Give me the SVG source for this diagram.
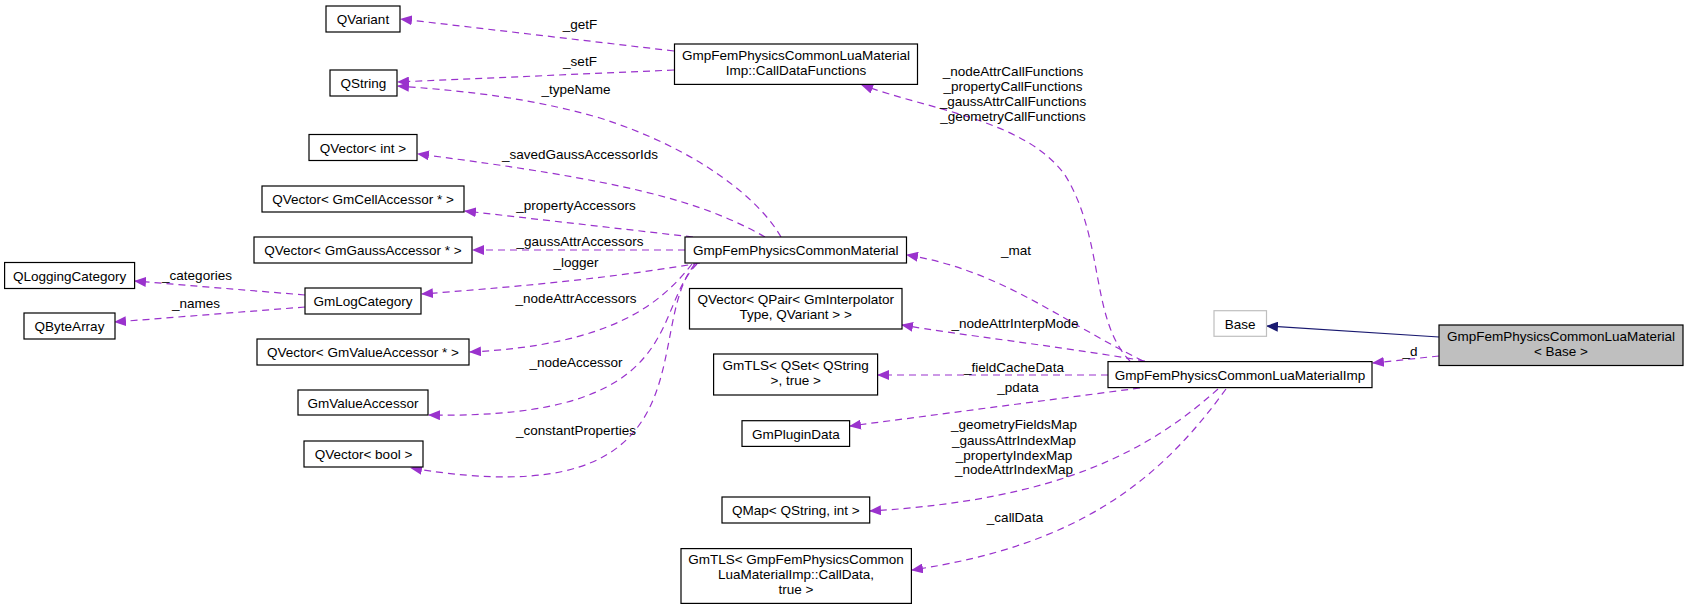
<svg xmlns="http://www.w3.org/2000/svg" width="1685" height="605" viewBox="0 0 1685 605">
<style>
text{font-family:"Liberation Sans",Arial,sans-serif;font-size:13.5px;fill:#000}
.n{text-anchor:middle}
.l{text-anchor:middle}
rect{fill:#fff;stroke:#000;stroke-width:1.2}
.e{fill:none;stroke:#9a32cd;stroke-width:1.2;stroke-dasharray:7,5}
</style>
<defs>
<marker id="ap" markerWidth="12" markerHeight="10" refX="11" refY="5" orient="auto" markerUnits="userSpaceOnUse"><path d="M0,0L12,5L0,10z" fill="#9a32cd"/></marker>
<marker id="ab" markerWidth="12" markerHeight="10" refX="11" refY="5" orient="auto" markerUnits="userSpaceOnUse"><path d="M0,0L12,5L0,10z" fill="#191970"/></marker>
</defs>
<rect x="0" y="0" width="1685" height="605" style="fill:#fff;stroke:none"/>
<g id="edges">
<path class="e" marker-end="url(#ap)" d="M674,51 L401,19"/>
<path class="e" marker-end="url(#ap)" d="M674,70 L398,82"/>
<path class="e" marker-end="url(#ap)" d="M781,237 C760,200 700,150 600,118 C520,95 450,90 398,86"/>
<path class="e" marker-end="url(#ap)" d="M765,237 C700,200 620,180 418,154"/>
<path class="e" marker-end="url(#ap)" d="M693,237 L465,211"/>
<path class="e" marker-end="url(#ap)" d="M685,250 L473,250"/>
<path class="e" marker-end="url(#ap)" d="M700,263 C600,280 500,288 422,294"/>
<path class="e" marker-end="url(#ap)" d="M305,295 L135,281"/>
<path class="e" marker-end="url(#ap)" d="M305,307 L115,322"/>
<path class="e" marker-end="url(#ap)" d="M692,264 C660,305 610,345 470,352"/>
<path class="e" marker-end="url(#ap)" d="M697,264 C650,310 690,420 429,415"/>
<path class="e" marker-end="url(#ap)" d="M695,264 C640,330 720,520 411,468"/>
<path class="e" marker-end="url(#ap)" d="M1130,361 C1090,320 1105,240 1065,175 C1025,120 930,110 862,85"/>
<path class="e" marker-end="url(#ap)" d="M1143,361 C1060,320 1000,270 907,255"/>
<path class="e" marker-end="url(#ap)" d="M1145,361 C1050,345 960,335 902,325"/>
<path class="e" marker-end="url(#ap)" d="M1108,375 L878,375"/>
<path class="e" marker-end="url(#ap)" d="M1140,388 L850,426"/>
<path class="e" marker-end="url(#ap)" d="M1218,389 C1150,450 1060,500 870,511"/>
<path class="e" marker-end="url(#ap)" d="M1226,389 C1160,480 1080,545 912,570"/>
<path fill="none" stroke="#191970" stroke-width="1.2" marker-end="url(#ab)" d="M1439,337 L1267,326"/>
<path class="e" marker-end="url(#ap)" d="M1439,356 L1373,363"/>
</g>
<g id="labels">
<text class="l" x="580" y="29">_getF</text>
<text class="l" x="580" y="66">_setF</text>
<text class="l" x="576" y="94">_typeName</text>
<text class="l" x="580" y="159">_savedGaussAccessorIds</text>
<text class="l" x="576" y="210">_propertyAccessors</text>
<text class="l" x="580" y="246">_gaussAttrAccessors</text>
<text class="l" x="576" y="267">_logger</text>
<text class="l" x="197" y="280">_categories</text>
<text class="l" x="196" y="308">_names</text>
<text class="l" x="576" y="303">_nodeAttrAccessors</text>
<text class="l" x="576" y="367">_nodeAccessor</text>
<text class="l" x="576" y="435">_constantProperties</text>
<text class="l" x="1013" y="76">_nodeAttrCallFunctions</text>
<text class="l" x="1013" y="90.5">_propertyCallFunctions</text>
<text class="l" x="1013" y="105.5">_gaussAttrCallFunctions</text>
<text class="l" x="1013" y="120.5">_geometryCallFunctions</text>
<text class="l" x="1016" y="255">_mat</text>
<text class="l" x="1015" y="328">_nodeAttrInterpMode</text>
<text class="l" x="1014" y="371.5">_fieldCacheData</text>
<text class="l" x="1018" y="391.5">_pdata</text>
<text class="l" x="1014" y="429">_geometryFieldsMap</text>
<text class="l" x="1014" y="444.5">_gaussAttrIndexMap</text>
<text class="l" x="1014" y="459.5">_propertyIndexMap</text>
<text class="l" x="1014" y="474">_nodeAttrIndexMap</text>
<text class="l" x="1015" y="521.5">_callData</text>
<text class="l" x="1410" y="356">_d</text>
</g>
<g id="QVariant"><rect x="326" y="6" width="74" height="26"/><text class="n" x="363" y="24">QVariant</text></g>
<g id="QString"><rect x="330" y="70" width="67" height="26"/><text class="n" x="363.5" y="88">QString</text></g>
<g id="QVectorInt"><rect x="309" y="134.5" width="108" height="26"/><text class="n" x="363" y="152.5">QVector&lt; int &gt;</text></g>
<g id="QVectorCell"><rect x="262" y="186" width="202" height="26"/><text class="n" x="363" y="204">QVector&lt; GmCellAccessor * &gt;</text></g>
<g id="QVectorGauss"><rect x="254" y="237" width="218" height="26"/><text class="n" x="363" y="255">QVector&lt; GmGaussAccessor * &gt;</text></g>
<g id="QLoggingCategory"><rect x="4.6" y="262.5" width="130" height="26"/><text class="n" x="69.6" y="280.5">QLoggingCategory</text></g>
<g id="GmLogCategory"><rect x="305" y="288" width="116" height="26"/><text class="n" x="363" y="306">GmLogCategory</text></g>
<g id="QByteArray"><rect x="24" y="313" width="91" height="26"/><text class="n" x="69.5" y="331">QByteArray</text></g>
<g id="QVectorValue"><rect x="257" y="339" width="212" height="26"/><text class="n" x="363" y="357">QVector&lt; GmValueAccessor * &gt;</text></g>
<g id="GmValueAccessor"><rect x="298" y="390" width="130" height="25"/><text class="n" x="363" y="407.5">GmValueAccessor</text></g>
<g id="QVectorBool"><rect x="304" y="441" width="119" height="26"/><text class="n" x="363.5" y="459">QVector&lt; bool &gt;</text></g>
<g id="CallDataFunctions"><rect x="674.5" y="44" width="243" height="40.4"/><text class="n" x="796" y="60">GmpFemPhysicsCommonLuaMaterial</text><text class="n" x="796" y="75">Imp::CallDataFunctions</text></g>
<g id="CommonMaterial"><rect x="685" y="237" width="221.5" height="26"/><text class="n" x="795.7" y="255">GmpFemPhysicsCommonMaterial</text></g>
<g id="QVectorQPair"><rect x="689.5" y="288.5" width="212.5" height="40.5"/><text class="n" x="795.7" y="304">QVector&lt; QPair&lt; GmInterpolator</text><text class="n" x="795.7" y="319">Type, QVariant &gt; &gt;</text></g>
<g id="GmTLSQSet"><rect x="713.6" y="354" width="164" height="41"/><text class="n" x="795.7" y="370">GmTLS&lt; QSet&lt; QString</text><text class="n" x="795.7" y="385">&gt;, true &gt;</text></g>
<g id="GmPluginData"><rect x="742" y="420.7" width="107.6" height="25.7"/><text class="n" x="795.8" y="438.5">GmPluginData</text></g>
<g id="QMap"><rect x="722" y="497" width="147.7" height="26"/><text class="n" x="795.8" y="515">QMap&lt; QString, int &gt;</text></g>
<g id="GmTLSCallData"><rect x="681" y="548.6" width="230.4" height="54.8"/><text class="n" x="796" y="564">GmTLS&lt; GmpFemPhysicsCommon</text><text class="n" x="796" y="579">LuaMaterialImp::CallData,</text><text class="n" x="796" y="594">true &gt;</text></g>
<g id="Base"><rect x="1214" y="310.7" width="52.5" height="25.6" style="stroke:#bfbfbf"/><text class="n" x="1240.2" y="328.5">Base</text></g>
<g id="LuaMaterialImp"><rect x="1108" y="361.6" width="264" height="26"/><text class="n" x="1240" y="379.5">GmpFemPhysicsCommonLuaMaterialImp</text></g>
<g id="LuaMaterialBase"><rect x="1439" y="325" width="244" height="40.5" style="fill:#bfbfbf"/><text class="n" x="1561" y="341">GmpFemPhysicsCommonLuaMaterial</text><text class="n" x="1561" y="356">&lt; Base &gt;</text></g>
</svg>
